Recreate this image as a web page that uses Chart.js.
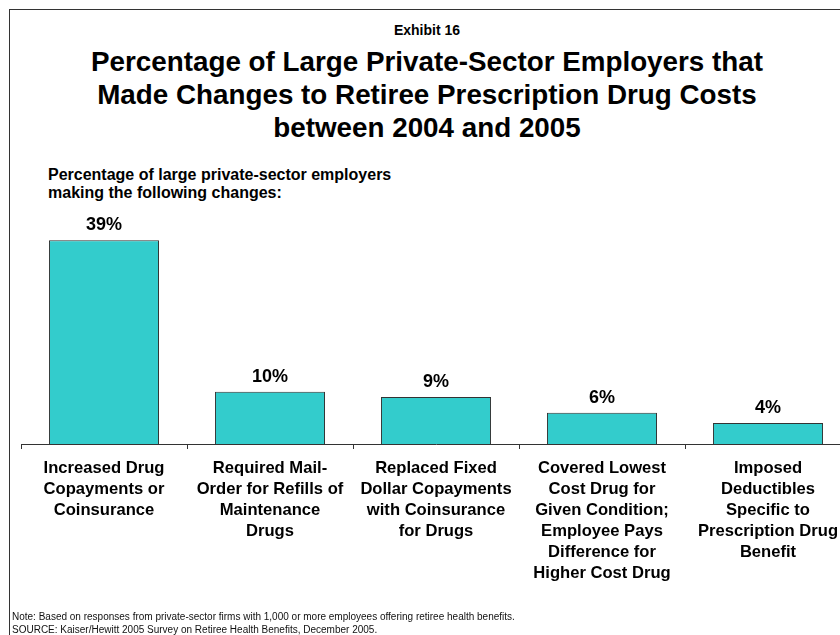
<!DOCTYPE html>
<html>
<head>
<meta charset="utf-8">
<script src="https://cdn.jsdelivr.net/npm/chart.js@4"></script>
<style>
    html, body { margin: 0; padding: 0; background: #fff; overflow: hidden; width: 840px; height: 635px; }
    body { position: relative; font-family: "Liberation Sans", Arial, sans-serif; color: #000; }
    .frame { position: absolute; left: 9px; top: 9px; width: 900px; height: 700px; border-top: 1px solid #333; border-left: 1px solid #333; }
    .exhibit { position: absolute; left: 0; width: 854px; top: 22px; text-align: center; font-weight: bold; font-size: 14px; line-height: 16px; }
    .title { position: absolute; left: 0; width: 854px; top: 45px; text-align: center; font-weight: bold; font-size: 27.8px; line-height: 33px; }
    .subtitle { position: absolute; left: 48px; top: 166px; font-weight: bold; font-size: 16px; line-height: 18px; }
    .note { position: absolute; left: 12px; top: 610px; font-size: 10px; line-height: 13px; color: #111; }
    .chart-box { position: absolute; left: 0; top: 0; width: 860px; height: 635px; }
</style>
</head>
<body>
<div class="frame"></div>
<div class="exhibit">Exhibit 16</div>
<div class="title">Percentage of Large Private-Sector Employers that<br>Made Changes to Retiree Prescription Drug Costs<br>between 2004 and 2005</div>
<div class="subtitle">Percentage of large private-sector employers<br>making the following changes:</div>
<div class="chart-box"><canvas id="changesChart" width="860" height="635"></canvas></div>
<div class="note">Note: Based on responses from private-sector firms with 1,000 or more employees offering retiree health benefits.<br>SOURCE: Kaiser/Hewitt 2005 Survey on Retiree Health Benefits, December 2005.</div>

<script>
const changeLabels = [
    ["Increased Drug", "Copayments or", "Coinsurance"],
    ["Required Mail-", "Order for Refills of", "Maintenance", "Drugs"],
    ["Replaced Fixed", "Dollar Copayments", "with Coinsurance", "for Drugs"],
    ["Covered Lowest", "Cost Drug for", "Given Condition;", "Employee Pays", "Difference for", "Higher Cost Drug"],
    ["Imposed", "Deductibles", "Specific to", "Prescription Drug", "Benefit"]
];
const employerPercents = [39, 10, 9, 6, 4];
const yAxisMax = 40;

const FONT = '"Liberation Sans", Arial, sans-serif';

// writes "NN%" above each bar
const valueLabels = {
    id: 'valueLabels',
    afterDatasetsDraw(chart) {
        const ctx = chart.ctx;
        const meta = chart.getDatasetMeta(0);
        ctx.save();
        ctx.font = 'bold 18px ' + FONT;
        ctx.fillStyle = '#000';
        ctx.textAlign = 'center';
        ctx.textBaseline = 'middle';
        meta.data.forEach((bar, i) => {
            ctx.fillText(employerPercents[i] + '%', bar.x, bar.y - 15);
        });
        ctx.restore();
    }
};

const ctx = document.getElementById('changesChart').getContext('2d');
new Chart(ctx, {
    type: 'bar',
    data: {
        labels: changeLabels,
        datasets: [{
            data: employerPercents,
            backgroundColor: '#33CCCC',
            borderColor: '#333333',
            borderWidth: 1,
            categoryPercentage: 1.0,
            barPercentage: 0.663
        }]
    },
    options: {
        responsive: false,
        animation: false,
        devicePixelRatio: 1,
        layout: { padding: { top: 235, left: 21, right: 9, bottom: 0 } },
        plugins: { legend: { display: false }, tooltip: { enabled: false } },
        scales: {
            x: {
                afterFit: scale => { scale.height = 191; },
                border: { display: true, color: '#333', width: 1 },
                grid: { display: true, drawOnChartArea: false, drawTicks: true, tickLength: 5, color: '#333', offset: true },
                ticks: {
                    color: '#000',
                    padding: 9,
                    maxRotation: 0,
                    autoSkip: false,
                    font: { family: FONT, size: 16.6, weight: 'bold', lineHeight: '21px' }
                }
            },
            y: {
                display: false,
                min: 0,
                max: yAxisMax
            }
        }
    },
    plugins: [valueLabels]
});
</script>
</body>
</html>
